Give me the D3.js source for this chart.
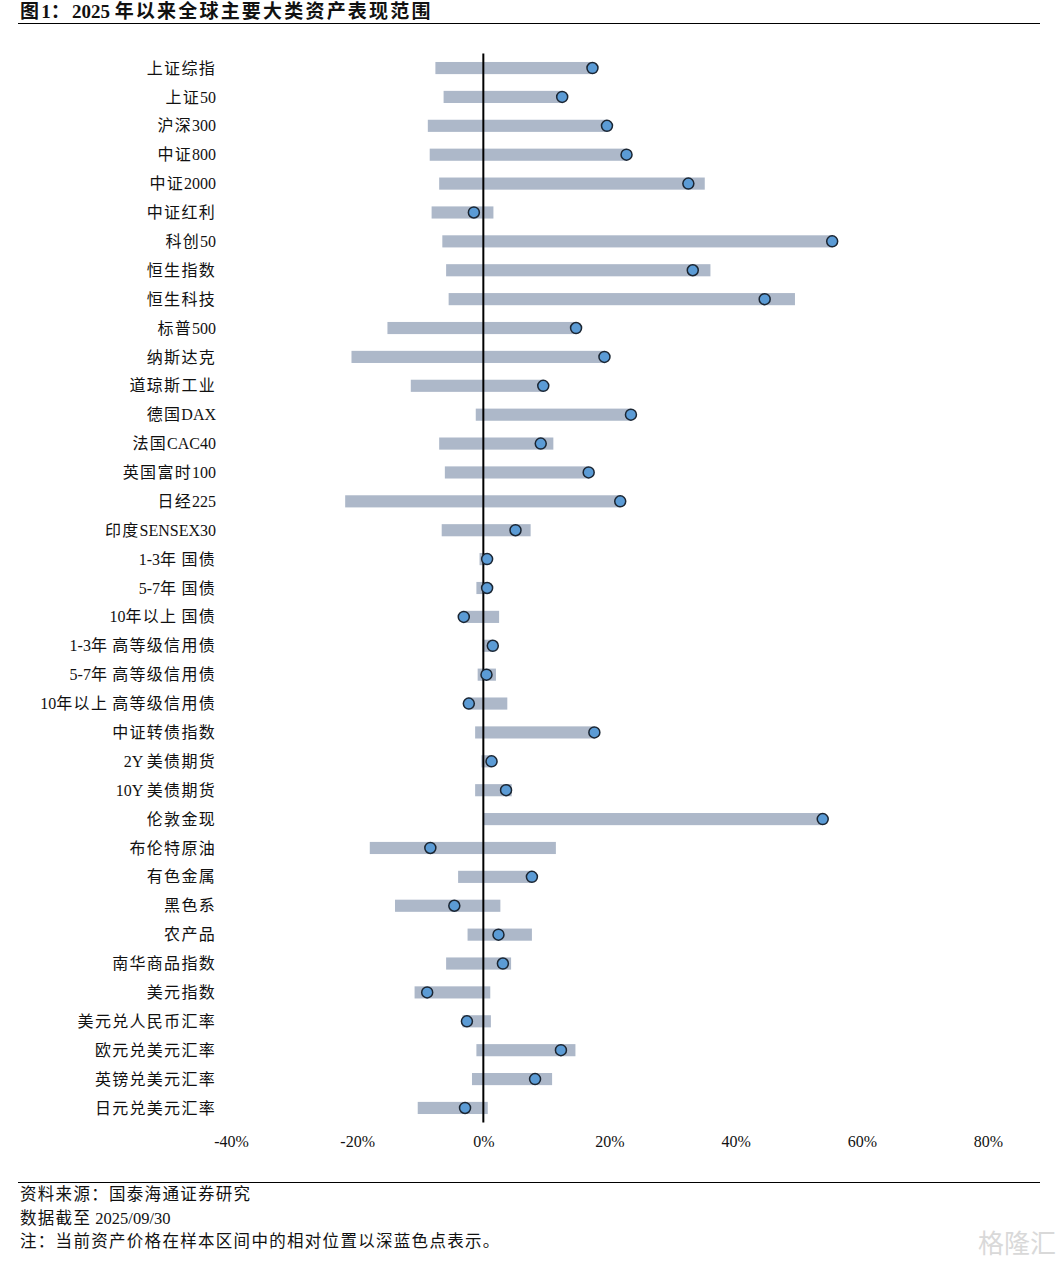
<!DOCTYPE html>
<html>
<head>
<meta charset="utf-8">
<script src="https://cdn.jsdelivr.net/npm/d3@7"></script>
<style>
	body { margin:0; background:#fff; }
	text { font-family:"Liberation Serif","Noto Sans CJK SC",serif; fill:#111; }
	.axis text { font-size:16px; font-family:"Liberation Serif",serif; }
	.axis .domain, .axis line { display:none; }
</style>
</head>
<body>
<div id="chart-area"></div>
<script>
// categories, top to bottom
var names = ["上证综指","上证50","沪深300","中证800","中证2000","中证红利","科创50","恒生指数","恒生科技","标普500",
	"纳斯达克","道琼斯工业","德国DAX","法国CAC40","英国富时100","日经225","印度SENSEX30","1-3年 国债","5-7年 国债","10年以上 国债",
	"1-3年 高等级信用债","5-7年 高等级信用债","10年以上 高等级信用债","中证转债指数","2Y 美债期货","10Y 美债期货","伦敦金现","布伦特原油","有色金属","黑色系",
	"农产品","南华商品指数","美元指数","美元兑人民币汇率","欧元兑美元汇率","英镑兑美元汇率","日元兑美元汇率"];

// range low / high since start of 2025 (%)
var lows  = [-7.6,-6.3,-8.8,-8.5,-7.0,-8.2,-6.5,-5.9,-5.5,-15.2,
	-20.9,-11.5,-1.2,-7.0,-6.1,-21.9,-6.6,-0.6,-1.1,-3.4,
	-0.1,-0.9,-2.5,-1.3,-0.3,-1.3,0.0,-18.0,-4.0,-14.0,
	-2.5,-5.9,-10.9,-3.3,-1.1,-1.8,-10.4];
var highs = [17.3,12.5,19.6,22.7,35.1,1.6,55.4,36.0,49.4,14.7,
	19.2,9.5,23.4,11.1,16.7,21.7,7.5,0.6,0.6,2.5,
	1.5,2.0,3.8,17.6,1.3,4.5,53.8,11.5,7.7,2.7,
	7.7,4.4,1.1,1.2,14.6,10.9,0.7];
// current value (%)
var current = [17.3,12.5,19.6,22.7,32.5,-1.5,55.3,33.2,44.6,14.7,
	19.2,9.5,23.4,9.1,16.7,21.7,5.1,0.6,0.6,-3.1,
	1.5,0.5,-2.3,17.6,1.3,3.6,53.8,-8.4,7.7,-4.6,
	2.4,3.1,-8.9,-2.6,12.3,8.2,-2.9];

var ticks = [-40,-20,0,20,40,60,80];

var data = names.map(function(n,i){
	return {name:n, lo:lows[i], hi:highs[i], cur:current[i]};
});

// chinese glyphs get a bit of extra spacing, latin stays tight
function fillSpaced(t, str, sp) {
	var runs = str.match(/[\u3000-\u9fff\uff00-\uffef]+|[^\u3000-\u9fff\uff00-\uffef]+/g) || [];
	runs.forEach(function(r){
		var cjk = /[\u3000-\u9fff\uff00-\uffef]/.test(r);
		t.append("tspan")
			.style("letter-spacing", cjk ? sp+"px" : "0px")
			.text(r);
	});
}

var W = 1063, H = 1265;

var svg = d3.select("#chart-area").append("svg")
	.attr("width", W)
	.attr("height", H);

// header
var title = svg.append("text")
	.attr("x", 20).attr("y", 18)
	.style("font-size","19px").style("font-weight","bold");
fillSpaced(title, "图1：2025 年以来全球主要大类资产表现范围", 2.2);

svg.append("line")
	.attr("x1",18).attr("x2",1040).attr("y1",23.5).attr("y2",23.5)
	.style("stroke","#000").style("stroke-width",1.2);

var x = d3.scaleLinear().domain([-40,80]).range([231,988]);
var y = d3.scaleBand()
	.domain(names)
	.range([53.6,1122.4])
	.paddingInner(0.58)
	.paddingOuter(0.29);

// range bars
svg.selectAll(".bar")
	.data(data)
	.enter()
	.append("rect")
	.attr("class","bar")
	.attr("x", function(d){ return x(d.lo); })
	.attr("width", function(d){ return x(d.hi)-x(d.lo); })
	.attr("y", function(d){ return y(d.name); })
	.attr("height", y.bandwidth())
	.style("fill","#adb8c9");

// zero line
svg.append("line")
	.attr("x1",x(0)).attr("x2",x(0))
	.attr("y1",y.range()[0]).attr("y2",y.range()[1])
	.style("stroke","#000").style("stroke-width",2);

// current dots
svg.selectAll(".dot")
	.data(data)
	.enter()
	.append("circle")
	.attr("class","dot")
	.attr("cx", function(d){ return x(d.cur); })
	.attr("cy", function(d){ return y(d.name)+y.bandwidth()/2; })
	.attr("r", 5.5)
	.style("fill","#5b9bd5")
	.style("stroke","#1b2633")
	.style("stroke-width",1.5);

// category labels
svg.selectAll(".barlabel")
	.data(data)
	.enter()
	.append("text")
	.attr("class","barlabel")
	.attr("text-anchor","end")
	.attr("x", 216)
	.attr("y", function(d){ return y(d.name)+y.bandwidth()/2; })
	.attr("dy","0.35em")
	.style("font-size","16px")
	.each(function(d){ fillSpaced(d3.select(this), d.name, 1.3); });

// x axis
svg.append("g")
	.attr("class","axis")
	.attr("transform","translate(0,1136)")
	.call(d3.axisBottom(x).tickValues(ticks).tickSize(0).tickPadding(0)
		.tickFormat(function(d){ return d+"%"; }));

// footer
svg.append("line")
	.attr("x1",18).attr("x2",1040).attr("y1",1182.5).attr("y2",1182.5)
	.style("stroke","#000").style("stroke-width",1.2);

var notes = ["资料来源：国泰海通证券研究","数据截至 2025/09/30","注：当前资产价格在样本区间中的相对位置以深蓝色点表示。"];
svg.selectAll(".note")
	.data(notes)
	.enter()
	.append("text")
	.attr("class","note")
	.attr("x",20)
	.attr("y",function(d,i){ return 1200+i*23.5; })
	.style("font-size","16.5px")
	.each(function(d){ fillSpaced(d3.select(this), d, 1.3); });

svg.append("text")
	.attr("x",1056).attr("y",1253)
	.attr("text-anchor","end")
	.style("font-size","26px")
	.style("font-family","Noto Sans CJK SC")
	.style("fill","#d9d9d9")
	.text("格隆汇");
</script>
</body>
</html>
